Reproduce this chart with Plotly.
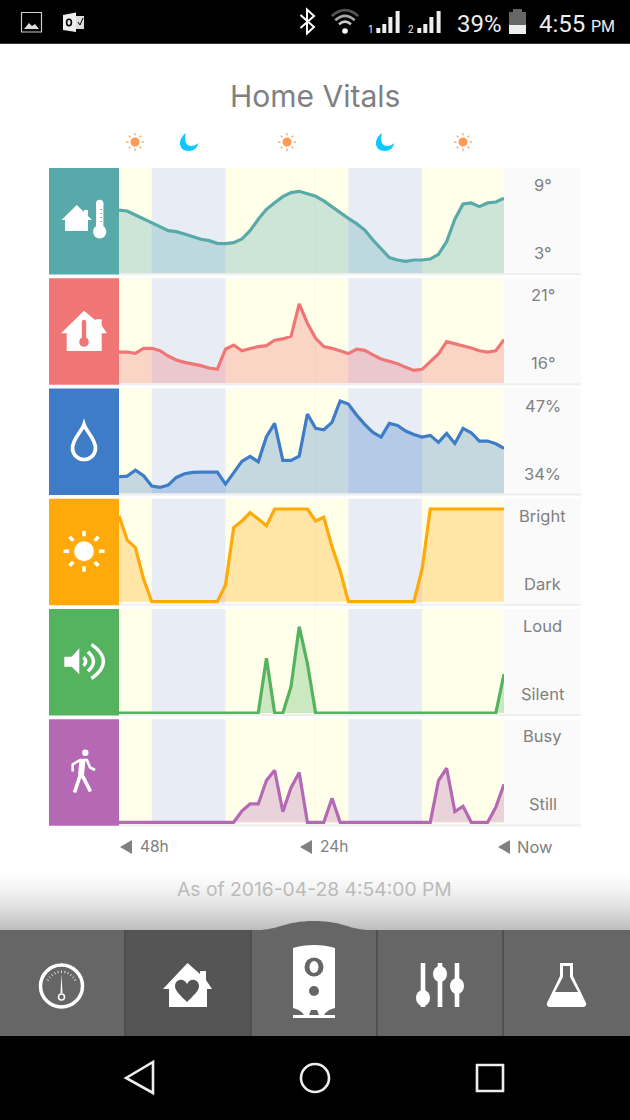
import math
import plotly.graph_objects as go

hours = list(range(48))
night_start = [4, 28]
night_end = [13, 37]
midpoint = 24

outdoor_temp = [7.39, 7.31, 6.97, 6.66, 6.32, 5.99, 5.65, 5.56, 5.37, 5.11, 4.92, 4.80,
                4.58, 4.55, 4.63, 4.94, 5.65, 6.61, 7.45, 8.01, 8.52, 8.86, 8.97, 8.77,
                8.55, 8.16, 7.65, 7.20, 6.69, 6.24, 5.70, 4.86, 4.13, 3.37, 3.17, 3.06,
                3.17, 3.17, 3.25, 3.65, 4.72, 6.61, 7.90, 7.99, 7.68, 7.99, 8.07, 8.38]
indoor_temp = [17.36, 17.36, 17.26, 17.64, 17.64, 17.46, 17.06, 16.76, 16.58, 16.48, 16.33, 16.15,
               16.05, 17.57, 17.89, 17.46, 17.64, 17.77, 17.84, 18.25, 18.35, 18.55, 21.0, 19.54,
               18.40, 17.77, 17.64, 17.44, 17.24, 17.57, 17.49, 17.14, 16.83, 16.66, 16.48, 16.20,
               15.97, 16.05, 16.63, 17.21, 18.15, 18.0, 17.87, 17.67, 17.46, 17.36, 17.46, 18.30]
humidity = [35.6, 35.7, 36.6, 35.75, 34.2, 34.0, 34.35, 35.5, 36.05, 36.25, 36.3, 36.25,
            36.3, 34.5, 36.25, 37.9, 38.65, 37.85, 41.6, 43.6, 38.05, 38.05, 38.7, 45.0,
            42.85, 42.65, 43.75, 46.95, 46.5, 44.85, 43.45, 42.25, 41.55, 43.6, 43.3, 42.45,
            41.95, 41.55, 41.8, 40.75, 42.1, 40.6, 42.85, 42.2, 40.95, 40.95, 40.55, 39.85]
light = [92.8, 66.5, 58.3, 24.5, 0, 0, 0, 0, 0, 0, 0, 0,
         0, 18, 79.9, 87.1, 96, 89.2, 82, 100, 100, 100, 100, 100,
         87.1, 91, 59.4, 33.5, 0, 0, 0, 0, 0, 0, 0, 0,
         0, 35.3, 100, 100, 100, 100, 100, 100, 100, 100, 100, 100]
sound = [0, 0, 0, 0, 0, 0, 0, 0, 0, 0, 0, 0,
         0, 0, 0, 0, 0, 0, 59, 0, 0, 28.4, 93.2, 53.6,
         0, 0, 0, 0, 0, 0, 0, 0, 0, 0, 0, 0,
         0, 0, 0, 0, 0, 0, 0, 0, 0, 0, 0, 42]
motion = [0, 0, 0, 0, 0, 0, 0, 0, 0, 0, 0, 0,
          0, 0, 0, 12.2, 19.8, 19.8, 45, 56.1, 11.5, 37.4, 53.6, 0,
          0, 0, 25.9, 0, 0, 0, 0, 0, 0, 0, 0, 0,
          0, 0, 0, 45, 58.3, 11.5, 17.3, 0, 0, 0, 16.2, 41]

series = [outdoor_temp, indoor_temp, humidity, light, sound, motion]
colors = ["#58A9A9", "#F07575", "#3E7CC7", "#FFA90A", "#55B35F", "#B569B5"]
fills = ["rgba(88,169,169,0.3)", "rgba(240,117,117,0.3)", "rgba(62,124,199,0.3)",
         "rgba(255,169,10,0.3)", "rgba(85,179,95,0.3)", "rgba(181,105,181,0.3)"]
y_ranges = [[2.07, 10.94], [15.0, 22.95], [33.09, 48.83], [-2.16, 111.1], [-1.08, 112.2], [-2.05, 111.2]]
top_labels = ["9°", "21°", "47%", "Bright", "Loud", "Busy"]
bottom_labels = ["3°", "16°", "34%", "Dark", "Silent", "Still"]
panel_tops = [168, 278.2, 388.5, 498.7, 609, 719.2]
panel_h = 105
plot_left = 119
plot_right = 504
W = 630
H = 1120

fig = go.Figure()
shapes = []
notes = []


# pixel coords on the overlay axes x7/y7
def rect(x0, y0, x1, y1, color):
    shapes.append(dict(type="rect", xref="x7", yref="y7", x0=x0, y0=y0, x1=x1, y1=y1,
                       fillcolor=color, line_width=0, layer="above"))


def path(d, fill=None, stroke=None, w=0):
    shapes.append(dict(type="path", xref="x7", yref="y7", path=d, layer="above",
                       fillcolor=fill if fill else "rgba(0,0,0,0)",
                       line=dict(color=stroke if stroke else "rgba(0,0,0,0)", width=w)))


def circle(cx, cy, r, fill=None, stroke=None, w=0, ry=None):
    ry = ry if ry else r
    shapes.append(dict(type="circle", xref="x7", yref="y7", x0=cx - r, x1=cx + r, y0=cy - ry, y1=cy + ry,
                       layer="above", fillcolor=fill if fill else "rgba(0,0,0,0)",
                       line=dict(color=stroke if stroke else "rgba(0,0,0,0)", width=w)))


def text(x, y, s, size, color, family="Inter", anchor="center"):
    notes.append(dict(x=x, y=y, xref="x7", yref="y7", text=s, showarrow=False, xanchor=anchor,
                      yanchor="middle", font=dict(size=size, color=color, family=family)))


def sun(cx, cy, r, r0, r1, w, color):
    circle(cx, cy, r, fill=color)
    for k in range(8):
        a = k * math.pi / 4
        path("M %.1f,%.1f L %.1f,%.1f" % (cx + r0 * math.cos(a), cy + r0 * math.sin(a),
                                          cx + r1 * math.cos(a), cy + r1 * math.sin(a)),
             stroke=color, w=w)


def arc(cx, cy, r, a0, a1, color, w):
    # one quadratic segment is close enough at these sizes
    m = (a0 + a1) / 2
    k = r / math.cos((a1 - a0) / 2)
    path("M %.1f,%.1f Q %.1f,%.1f %.1f,%.1f" % (cx + r * math.cos(a0), cy + r * math.sin(a0),
                                                cx + k * math.cos(m), cy + k * math.sin(m),
                                                cx + r * math.cos(a1), cy + r * math.sin(a1)),
         stroke=color, w=w)


layout_axes = {}
for i in range(6):
    n = "" if i == 0 else str(i + 1)
    top = panel_tops[i]
    fig.add_trace(go.Scatter(x=hours, y=series[i], xaxis="x" + n, yaxis="y" + n, mode="lines",
                             line=dict(color=colors[i], width=3.2), fill="tozeroy", fillcolor=fills[i],
                             hoverinfo="skip"))
    layout_axes["xaxis" + n] = dict(domain=[plot_left / W, plot_right / W], range=[0, 47], visible=False,
                                    anchor="y" + n, fixedrange=True)
    layout_axes["yaxis" + n] = dict(domain=[1 - (top + panel_h) / H, 1 - top / H], range=y_ranges[i],
                                    visible=False, anchor="x" + n, fixedrange=True)
    # day / night backdrop
    shapes.append(dict(type="rect", xref="x" + n, yref="y" + n + " domain", x0=0, x1=47, y0=0, y1=1,
                       fillcolor="#FFFFEA", line_width=0, layer="below"))
    for s, e in zip(night_start, night_end):
        shapes.append(dict(type="rect", xref="x" + n, yref="y" + n + " domain", x0=s, x1=e, y0=0, y1=1,
                           fillcolor="#E8EDF5", line_width=0, layer="below"))
    shapes.append(dict(type="line", xref="x" + n, yref="y" + n + " domain", x0=midpoint, x1=midpoint, y0=0, y1=1,
                       line=dict(color="rgba(0,0,0,0.04)", width=1), layer="below"))
    rect(49, top, plot_left, top + 106.5, colors[i])
    rect(plot_right, top, 581, top + panel_h, "#FAFAFA")
    rect(plot_left, top + panel_h, 581, top + panel_h + 2, "#EEEEEE")
    text(542.5, top + 17, top_labels[i], 16.5, "#808080")
    text(542.5, top + 85, bottom_labels[i], 16.5, "#808080")

layout_axes["xaxis7"] = dict(domain=[0, 1], range=[0, W], visible=False, anchor="y7", fixedrange=True)
layout_axes["yaxis7"] = dict(domain=[0, 1], range=[H, 0], visible=False, anchor="x7", fixedrange=True)

# panel icons
white = "#FFFFFF"
path("M 76.7,205 L 84,212 V 210 H 88 V 216 L 92,220 H 88 V 231 H 65 V 220 H 61.5 Z", fill=white)
rect(96, 203, 103.4, 228, white)
circle(99.7, 203.5, 3.7, fill=white)
circle(99.7, 231.7, 6.7, fill=white)
for y in [209, 213, 217, 221]:
    rect(100.5, y, 102, y + 1, "#58A9A9")

path("M 84,310.7 L 95.7,320.5 V 319.3 H 101.7 V 325.5 L 107,333.3 H 101.7 V 351 H 66.7 V 333.3 H 61 Z", fill=white)
rect(81.8, 322, 86.2, 340, "#F07575")
circle(84, 322, 2.2, fill="#F07575")
circle(84, 342, 4.8, fill="#F07575")

path("M 84,424.5 C 86,431 95.5,439 95.5,448 C 95.5,455 90,459.5 84,459.5 C 78,459.5 72.5,455 72.5,448 C 72.5,439 82,431 84,424.5 Z",
     stroke=white, w=3.7)

sun(84, 551.3, 10, 15, 20.5, 3.5, white)

path("M 64.3,656.7 H 71.7 L 79.3,648.3 V 674.3 L 71.7,666.7 H 64.3 Z", fill=white)
arc(79.3, 661.5, 6, -0.8, 0.8, white, 3.5)
arc(79.3, 661.5, 13, -0.85, 0.85, white, 3.5)
arc(79.3, 661.5, 21, -0.95, 0.95, white, 3.5)

circle(85.3, 752.7, 3.2, fill=white)
path("M 72.7,771.5 V 764.5 L 80,760 H 87 L 90,767.5 L 95,770", stroke=white, w=2.6)
path("M 82.5,760 L 81,775", stroke=white, w=6)
path("M 74.5,792.5 L 81,773 L 90.5,791.5", stroke=white, w=3.6)

# sun and moon row
sun_x = [135, 287, 463]
moon_x = [189, 385]
for x in sun_x:
    sun(x, 142, 4.5, 6.5, 9, 1.2, "#FF9B54")
for x in moon_x:
    path("M %.1f,133 C %.1f,138 %.1f,151 %.1f,151 C %.1f,151 %.1f,148 %.1f,143 C %.1f,147 %.1f,147 %.1f,143 C %.1f,140 %.1f,136 %.1f,133 Z" % (
        x - 3, x - 11, x - 12, x, x + 5, x + 8, x + 9.5, x + 5, x - 1, x - 3, x - 4.5, x - 4, x - 3),
        fill="#10C8FF")

text(315, 96, "Home Vitals", 30, "#808080")

# time axis
time_labels = ["48h", "24h", "Now"]
time_x = [137.5, 317.5, 515]
time_arrow = [120, 300, 498]
time_size = [15.5, 15.5, 16.5]
for s, x, a, sz in zip(time_labels, time_x, time_arrow, time_size):
    path("M %d,847 L %d,840 V 854 Z" % (a, a + 12), fill="#808080")
    text(x, 846.5, s, sz, "#808080", anchor="left")

# bottom fade
for k in range(32):
    g = 255 - int(65 * (k / 31) ** 1.6)
    rect(0, 866 + 2 * k, W, 868 + 2 * k, "rgb(%d,%d,%d)" % (g, g, g))
text(314.5, 889, "As of 2016-04-28 4:54:00 PM", 19.3, "#BBBBBB")

# nav bar
rect(0, 930, W, 1036, "#666666")
rect(125, 930, 251, 1036, "#555555")
path("M 258,930 C 278,930 285,921 314,921 C 343,921 350,930 370,930 Z", fill="#666666")
for x in [125, 251, 377, 503]:
    rect(x - 0.7, 930, x + 0.7, 1036, "#484848")

circle(61.5, 986, 21, stroke=white, w=3.5)
for k in range(-5, 6):
    a = -math.pi / 2 + k * 0.22
    path("M %.1f,%.1f L %.1f,%.1f" % (61.5 + 14 * math.cos(a), 986 + 14 * math.sin(a) + 1,
                                      61.5 + 16.5 * math.cos(a), 986 + 16.5 * math.sin(a) + 1),
         stroke="#DDDDDD", w=1)
path("M 61.5,974 L 60.5,993 H 62.5 Z", fill=white)
circle(61.5, 997, 3, stroke=white, w=1.5)

path("M 187.5,963 L 200,974 V 971 H 206 V 980 L 212,989 H 207 V 1007 H 169 V 989 H 163 Z", fill=white)
path("M 187,1002 C 181,996 175,991 175,986 C 175,979 184,977 187,984 C 190,977 199,979 199,986 C 199,991 193,996 187,1002 Z",
     fill="#555555")

path("M 293,948 C 305,944 323,944 335,948 V 1008 C 328,1010 326,1012 324,1015 H 304 C 302,1012 300,1010 293,1008 Z", fill=white)
rect(293, 1015, 335, 1018, white)
circle(314, 967, 9.5, fill="#666666")
circle(314, 967, 4.5, ry=6, fill=white)
circle(314, 991, 5, fill="#666666")
path("M 309,1015 L 311,1010 H 317 L 319,1015 Z", fill="#666666")

slider_x = [423, 440, 457]
knob_y = [998, 974, 986]
for x, y in zip(slider_x, knob_y):
    rect(x - 2.3, 963, x + 2.3, 1007, white)
    circle(x, y, 7, ry=8, fill=white)

path("M 560,963 H 573 V 976 L 586,1003 C 587,1005 585,1007 583,1007 H 550 C 548,1007 546,1005 547,1003 L 560,976 Z",
     fill=white)
path("M 563,966 H 570 V 977 L 578,992 H 555 L 563,977 Z", fill="#666666")

# android buttons
rect(0, 1036, W, 1120, "#000000")
path("M 126,1078 L 153,1062 V 1093 Z", stroke="#EEEEEE", w=2.6)
circle(315, 1078, 14, stroke="#EEEEEE", w=2.6)
shapes.append(dict(type="rect", xref="x7", yref="y7", x0=477, x1=503, y0=1065, y1=1091, layer="above",
                   line=dict(color="#EEEEEE", width=2.6), fillcolor="rgba(0,0,0,0)"))

# status bar
rect(0, 0, W, 43, "#000000")
rect(0, 43, W, 44, "#333333")
shapes.append(dict(type="rect", xref="x7", yref="y7", x0=21.5, x1=41.5, y0=12.5, y1=32, layer="above",
                   line=dict(color="#CCCCCC", width=1.2), fillcolor="rgba(0,0,0,0)"))
path("M 24,29 L 29,23 L 32,26 L 35,24 L 39,29 Z", fill="#DDDDDD")

path("M 63,15 L 76,12.5 V 32 L 63,30 Z", fill="#EEEEEE")
rect(76, 16, 84, 29, "#DDDDDD")
circle(69, 22.5, 2.4, stroke="#000000", w=1.6, ry=3.2)
path("M 78,22 L 80,25 L 83,18", stroke="#000000", w=1)

path("M 300.5,15 L 314,27 L 307,33.5 V 9.5 L 314,16 L 300.5,28", stroke=white, w=2)
circle(345, 31, 2.8, fill=white)
arc(345, 31, 9, -2.3, -0.84, "#CCCCCC", 2.5)
arc(345, 31, 14.5, -2.3, -0.84, "#AAAAAA", 2.5)
arc(345, 31, 20, -2.3, -0.84, "#555555", 2.5)

signal_x = [378.3, 384.3, 390.4, 397.6]
signal_top = [28, 24, 17, 11]
for off in [0, 41]:
    for x, y in zip(signal_x, signal_top):
        rect(x + off - 2, y, x + off + 2, 33, "#EEEEEE")
text(371, 29, "1", 10, "#EEEEEE", "Roboto")
text(411, 29, "2", 10, "#EEEEEE", "Roboto")

text(479, 23.5, "39%", 24, "#EEEEEE", "Roboto")
rect(513, 9, 522, 12, "#666666")
rect(509, 12, 526, 25, "#666666")
rect(509, 25, 526, 34, "#EEEEEE")
text(536.5, 23.5, "4:55", 24, "#EEEEEE", "Roboto", anchor="left")
text(588.5, 26, "PM", 16, "#EEEEEE", "Roboto", anchor="left")

fig.update_layout(width=W, height=H, margin=dict(l=0, r=0, t=0, b=0), showlegend=False, hovermode=False,
                  paper_bgcolor="#FFFFFF", plot_bgcolor="rgba(0,0,0,0)", shapes=shapes, annotations=notes,
                  **layout_axes)

fig.write_html("out.html", config=dict(displayModeBar=False),
               post_script="document.body.style.margin='0';")
